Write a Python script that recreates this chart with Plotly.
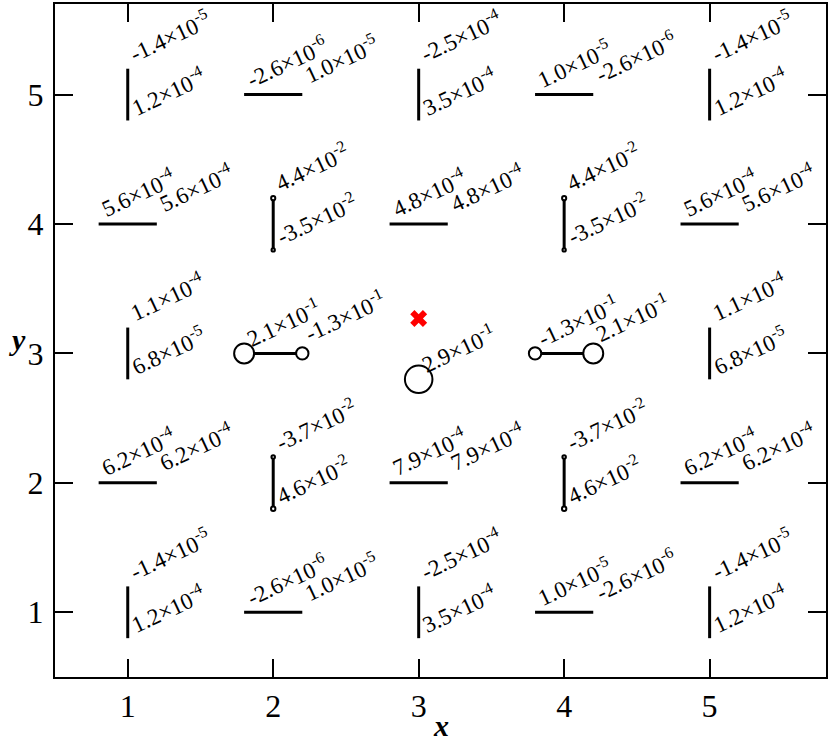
import plotly.graph_objects as go

# grid elements: centre, orientation, value at first end (left / top) and second end (right / bottom)
elem_x = [1, 2, 3, 4, 5,
          1, 2, 3, 4, 5,
          1, 2, 4, 5,
          1, 2, 3, 4, 5,
          1, 2, 3, 4, 5]
elem_y = [5, 5, 5, 5, 5,
          4, 4, 4, 4, 4,
          3, 3, 3, 3,
          2, 2, 2, 2, 2,
          1, 1, 1, 1, 1]
elem_dir = ['v', 'h', 'v', 'h', 'v',
            'h', 'v', 'h', 'v', 'h',
            'v', 'h', 'h', 'v',
            'h', 'v', 'h', 'v', 'h',
            'v', 'h', 'v', 'h', 'v']
val_first = [-1.4e-5, -2.6e-6, -2.5e-4, 1.0e-5, -1.4e-5,
             5.6e-4, 4.4e-2, 4.8e-4, 4.4e-2, 5.6e-4,
             1.1e-4, 2.1e-1, -1.3e-1, 1.1e-4,
             6.2e-4, -3.7e-2, 7.9e-4, -3.7e-2, 6.2e-4,
             -1.4e-5, -2.6e-6, -2.5e-4, 1.0e-5, -1.4e-5]
val_second = [1.2e-4, 1.0e-5, 3.5e-4, -2.6e-6, 1.2e-4,
              5.6e-4, -3.5e-2, 4.8e-4, -3.5e-2, 5.6e-4,
              6.8e-5, -1.3e-1, 2.1e-1, 6.8e-5,
              6.2e-4, 4.6e-2, 7.9e-4, 4.6e-2, 6.2e-4,
              1.2e-4, 1.0e-5, 3.5e-4, -2.6e-6, 1.2e-4]

# centre site
centre_x = [3]
centre_y = [2.8]
centre_val = [2.9e-1]
cross_x = [3]
cross_y = [3.27]

half = 0.2
serif = 'Liberation Serif'


def sci(v):
    m, e = f"{v:.1e}".split('e')
    return f"{m}×10<sup>{int(e)}</sup>"


seg_x, seg_y = [], []
end_x, end_y, end_v = [], [], []
labels = []
for x, y, d, a, b in zip(elem_x, elem_y, elem_dir, val_first, val_second):
    if d == 'h':
        p1, p2 = (x - half, y), (x + half, y)
    else:
        p1, p2 = (x, y + half), (x, y - half)
    seg_x += [p1[0], p2[0], None]
    seg_y += [p1[1], p2[1], None]
    for (px, py), v, role in ((p1, a, 1), (p2, b, 2)):
        end_x.append(px)
        end_y.append(py)
        end_v.append(v)
        if role == 1:
            dx, dy = 5, 4
        elif d == 'h':
            dx, dy = 5, 9
        else:
            dx, dy = 6, 2
        labels.append((px, py, sci(v), dx, dy))

for x, y, v in zip(centre_x, centre_y, centre_val):
    end_x.append(x)
    end_y.append(y)
    end_v.append(v)
    labels.append((x, y, sci(v), 5, 4))

fig = go.Figure()

fig.add_trace(go.Scatter(
    x=seg_x, y=seg_y, mode='lines',
    line=dict(color='black', width=3),
    hoverinfo='skip'
))

big = [i for i, v in enumerate(end_v) if abs(v) > 0.01]
fig.add_trace(go.Scatter(
    x=[end_x[i] for i in big],
    y=[end_y[i] for i in big],
    mode='markers',
    marker=dict(size=[95 * abs(end_v[i]) for i in big], color='white', opacity=1,
                line=dict(color='black', width=2)),
    hoverinfo='skip'
))

fig.add_trace(go.Scatter(
    x=cross_x, y=cross_y, mode='markers',
    marker=dict(symbol='x', size=15, color='red', opacity=1, line=dict(width=0)),
    hoverinfo='skip'
))

angle = 25
for px, py, txt, dx, dy in labels:
    fig.add_annotation(
        x=px, y=py, xref='x', yref='y', text=txt, showarrow=False,
        textangle=-angle, xanchor='left', yanchor='bottom',
        xshift=dx - 10, yshift=dy - 5,
        font=dict(family=serif, size=23, color='black')
    )

fig.add_annotation(x=0.5, y=-0.099, xref='paper', yref='paper', text='<b><i>x</i></b>',
                   showarrow=False, xanchor='center', yanchor='bottom',
                   font=dict(family=serif, size=30, color='black'))
fig.add_annotation(x=-0.048, y=0.502, xref='paper', yref='paper', text='<b><i>y</i></b>',
                   showarrow=False, xanchor='center', yanchor='middle',
                   font=dict(family=serif, size=30, color='black'))

axis_style = dict(
    showgrid=False, zeroline=False, showline=True, linewidth=2, linecolor='black',
    mirror='ticks', ticks='inside', ticklen=18, tickwidth=1.5, tickcolor='black',
    tickfont=dict(family=serif, size=32, color='black')
)

fig.update_xaxes(range=[0.5, 5.8], tickvals=[1, 2, 3, 4, 5], **axis_style)
fig.update_yaxes(range=[0.5, 5.7], tickvals=[1, 2, 3, 4, 5], ticklabelstandoff=3, **axis_style)

fig.update_layout(
    width=830, height=741, showlegend=False,
    plot_bgcolor='white', paper_bgcolor='white',
    margin=dict(l=55, r=4, t=2, b=64)
)

# the page body has a default 8px margin; drop it so the figure fills the window
fig.write_html("out.html", config={'displayModeBar': False},
               post_script="document.body.style.margin='0';")
